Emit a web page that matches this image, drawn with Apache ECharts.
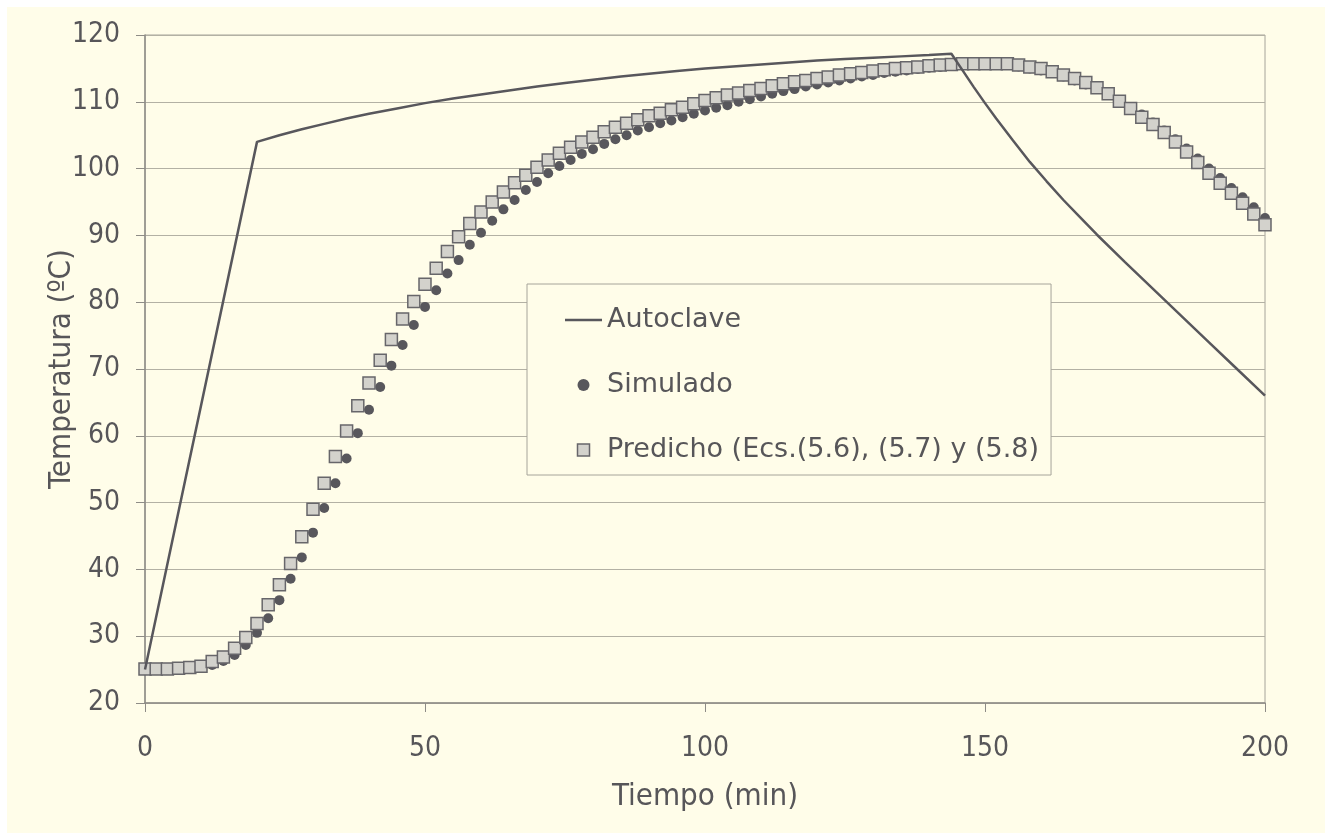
<!DOCTYPE html>
<html>
<head>
<meta charset="utf-8">
<script src="https://cdn.jsdelivr.net/npm/echarts@6/dist/echarts.min.js"></script>
<style>
  html, body { margin: 0; padding: 0; background: #ffffff; }
  #chart { width: 1331px; height: 838px; }
</style>
</head>
<body>
<div id="chart"></div>
<script>
// Autoclave temperature profile (min, ºC)
const autoclaveTime = [0, 20, 24, 28, 32, 36, 40, 45, 50, 55, 60, 65, 70, 75, 80, 85, 90, 95, 100, 105, 110, 115, 120, 125, 130, 135, 140, 144, 146, 148, 150, 152, 155, 158, 161, 164, 167, 170, 175, 180, 185, 190, 195, 200];
const autoclaveTemp = [25.0, 104.0, 105.0, 105.9, 106.7, 107.5, 108.2, 109.0, 109.8, 110.5, 111.1, 111.7, 112.3, 112.8, 113.3, 113.8, 114.2, 114.6, 115.0, 115.3, 115.6, 115.9, 116.2, 116.4, 116.6, 116.8, 117.0, 117.2, 114.7, 112.2, 109.8, 107.5, 104.2, 101.0, 98.1, 95.3, 92.7, 90.1, 86.0, 82.0, 78.0, 74.0, 70.0, 66.0];

// Sampling times for simulated / predicted product temperature
const sampleTime = [
  0, 2, 4, 6, 8, 10, 12, 14, 16, 18,
  20, 22, 24, 26, 28, 30, 32, 34, 36, 38,
  40, 42, 44, 46, 48, 50, 52, 54, 56, 58,
  60, 62, 64, 66, 68, 70, 72, 74, 76, 78,
  80, 82, 84, 86, 88, 90, 92, 94, 96, 98,
  100, 102, 104, 106, 108, 110, 112, 114, 116, 118,
  120, 122, 124, 126, 128, 130, 132, 134, 136, 138,
  140, 142, 144, 146, 148, 150, 152, 154, 156, 158,
  160, 162, 164, 166, 168, 170, 172, 174, 176, 178,
  180, 182, 184, 186, 188, 190, 192, 194, 196, 198,
  200
];

const simulado = [
  25.0, 25.0, 25.0, 25.0, 25.1, 25.3, 25.7, 26.3, 27.2, 28.7,
  30.5, 32.7, 35.4, 38.6, 41.8, 45.5, 49.2, 52.9, 56.6, 60.4,
  63.9, 67.3, 70.5, 73.6, 76.6, 79.3, 81.8, 84.3, 86.3, 88.6,
  90.4, 92.2, 93.9, 95.3, 96.8, 98.0, 99.3, 100.4, 101.3, 102.2,
  102.9, 103.7, 104.4, 105.0, 105.7, 106.2, 106.8, 107.2, 107.7, 108.2,
  108.7, 109.1, 109.5, 110.0, 110.4, 110.8, 111.2, 111.6, 111.9, 112.3,
  112.6, 112.9, 113.2, 113.5, 113.8, 114.0, 114.3, 114.5, 114.7, 114.9,
  115.1, 115.2, 115.4, 115.5, 115.6, 115.6, 115.6, 115.5, 115.3, 115.0,
  114.7, 114.3, 113.8, 113.2, 112.6, 111.9, 111.1, 110.2, 109.2, 108.1,
  106.9, 105.7, 104.4, 103.0, 101.5, 100.0, 98.6, 97.1, 95.7, 94.2,
  92.6
];

const predicho = [
  25.1, 25.1, 25.1, 25.2, 25.3, 25.5, 26.2, 26.9, 28.2, 29.8,
  31.9, 34.7, 37.7, 40.9, 44.9, 49.0, 52.9, 56.9, 60.7, 64.5,
  67.9, 71.3, 74.4, 77.5, 80.1, 82.7, 85.1, 87.6, 89.8, 91.8,
  93.5, 95.0, 96.5, 97.9, 99.0, 100.2, 101.3, 102.3, 103.2, 104.0,
  104.7, 105.5, 106.2, 106.8, 107.3, 107.9, 108.3, 108.8, 109.2, 109.7,
  110.2, 110.6, 111.0, 111.3, 111.7, 112.0, 112.4, 112.7, 113.0, 113.2,
  113.5, 113.7, 114.0, 114.2, 114.4, 114.6, 114.8, 115.0, 115.1, 115.2,
  115.4, 115.5, 115.6, 115.7, 115.7, 115.7, 115.7, 115.7, 115.5, 115.2,
  115.0, 114.5, 114.0, 113.5, 112.9, 112.1, 111.2, 110.1, 109.0, 107.7,
  106.6, 105.4, 104.0, 102.5, 100.9, 99.3, 97.8, 96.3, 94.8, 93.2,
  91.6
];

const seriesNames = ['Autoclave', 'Simulado', 'Predicho (Ecs.(5.6), (5.7) y (5.8)'];
const axisTitles = { x: 'Tiempo (min)', y: 'Temperatura (ºC)' };

const FONT = '"DejaVu Sans Condensed", "Liberation Sans", sans-serif';
const FONT_WIDE = '"DejaVu Sans", "Liberation Sans", sans-serif';
const TEXT = '#575659';
const DARK = '#58575c';
const SQUARE_FILL = '#d3d2cc';
const SQUARE_EDGE = '#67666a';

const pairs = (xs, ys) => xs.map((x, i) => [x, ys[i]]);

const chart = echarts.init(document.getElementById('chart'), null, { renderer: 'canvas' });

chart.setOption({
  backgroundColor: '#ffffff',
  animation: false,
  textStyle: { fontFamily: FONT },
  graphic: [{
    type: 'rect',
    z: -10,
    silent: true,
    shape: { x: 7, y: 7, width: 1318, height: 826 },
    style: { fill: '#fffde9' }
  }],
  grid: {
    left: 145, right: 66, top: 35, bottom: 135,
    show: true, borderColor: '#a6a49a', borderWidth: 1, backgroundColor: 'transparent'
  },
  legend: {
    orient: 'vertical',
    left: 527, top: 284,
    padding: [21, 12, 10, 38],
    itemGap: 35,
    itemWidth: 37,
    itemHeight: 12,
    symbolKeepAspect: true,
    backgroundColor: '#fffde9',
    borderColor: '#a6a49a',
    borderWidth: 1,
    borderRadius: 0,
    textStyle: { fontFamily: FONT_WIDE, fontSize: 27, color: TEXT, lineHeight: 30 },
    data: [
      { name: seriesNames[0], icon: 'path://M0,0 H37 V2.5 H0 Z', itemStyle: { color: DARK } },
      { name: seriesNames[1], icon: 'circle', itemStyle: { color: DARK } },
      { name: seriesNames[2], icon: 'path://M0,0 H10 V10 H0 Z', itemStyle: { color: SQUARE_FILL, borderColor: SQUARE_EDGE, borderWidth: 1.5 } }
    ]
  },
  xAxis: {
    type: 'value',
    min: 0, max: 200, interval: 50,
    name: axisTitles.x,
    nameLocation: 'middle',
    nameGap: 78,
    nameMoveOverlap: false,
    nameTextStyle: { fontFamily: FONT, fontSize: 31, color: TEXT },
    axisLine: { show: true, onZero: false, lineStyle: { color: '#8e8c86', width: 1.5 } },
    axisTick: { show: true, length: 9, lineStyle: { color: '#8e8c86' } },
    axisLabel: { margin: 32, fontFamily: FONT, fontSize: 28, color: TEXT },
    splitLine: { show: false }
  },
  yAxis: {
    type: 'value',
    min: 20, max: 120, interval: 10,
    name: axisTitles.y,
    nameLocation: 'middle',
    nameGap: 68,
    nameMoveOverlap: false,
    nameTextStyle: { fontFamily: FONT, fontSize: 31, color: TEXT },
    axisLine: { show: true, lineStyle: { color: '#8e8c86', width: 1.5 } },
    axisTick: { show: true, length: 9, lineStyle: { color: '#8e8c86' } },
    axisLabel: { margin: 25, fontFamily: FONT, fontSize: 28, color: TEXT },
    splitLine: { show: true, lineStyle: { color: '#b3b1a4', width: 1 } }
  },
  series: [
    {
      name: seriesNames[0],
      type: 'line',
      data: pairs(autoclaveTime, autoclaveTemp),
      symbol: 'none',
      smooth: false,
      z: 5,
      lineStyle: { color: DARK, width: 2.5 },
      itemStyle: { color: DARK }
    },
    {
      name: seriesNames[1],
      type: 'scatter',
      data: pairs(sampleTime, simulado),
      symbol: 'circle',
      symbolSize: 10,
      z: 3,
      itemStyle: { color: DARK, opacity: 1 }
    },
    {
      name: seriesNames[2],
      type: 'scatter',
      data: pairs(sampleTime, predicho),
      symbol: 'rect',
      symbolSize: 12,
      z: 4,
      itemStyle: { color: SQUARE_FILL, borderColor: SQUARE_EDGE, borderWidth: 1.5, opacity: 1 }
    }
  ]
});
</script>
</body>
</html>
